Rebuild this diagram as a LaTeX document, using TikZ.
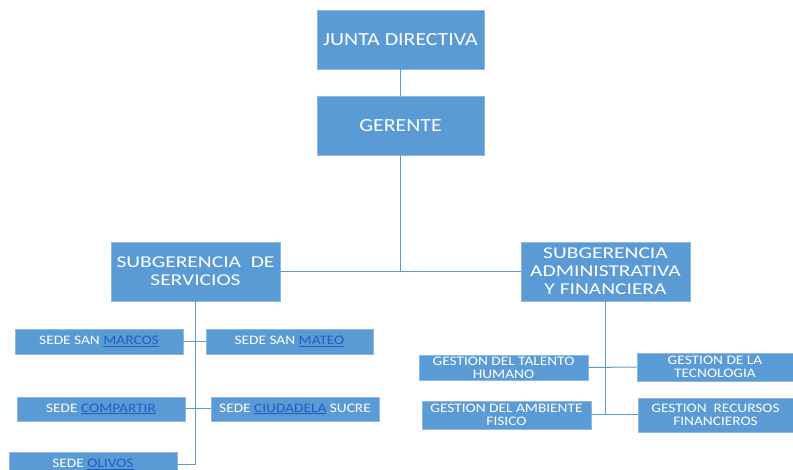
\documentclass[tikz,border=0pt]{standalone}
\usepackage{fontspec}
\newfontfamily\calb[FakeStretch=1.18]{Carlito}
\newfontfamily\calw[FakeStretch=1.3]{Carlito}
\definecolor{boxblue}{HTML}{5B9BD5}
\definecolor{edgeblue}{HTML}{8DB8E3}
\definecolor{lineblue}{HTML}{5B9BD5}
\definecolor{linkb}{HTML}{1F5FC4}
\newcommand{\lnk}[1]{{\color{linkb}\underline{#1}}}
\tikzset{
  box/.style={fill=boxblue, draw=edgeblue, line width=0.7pt, text=white, inner sep=0pt, align=center},
  big/.style={box, font=\calb\fontsize{18.5}{21}\selectfont},
  mid/.style={box, font=\calw\fontsize{16.5}{18}\selectfont},
  small/.style={box, font=\calb\fontsize{13}{12.7}\selectfont},
  conn/.style={draw=lineblue, line width=1pt},
}
\begin{document}
\begin{tikzpicture}[x=1pt,y=-1pt]
\useasboundingbox (0,0) rectangle (793,470);
\fill[white] (0,0) rectangle (793,470);
\node[big, minimum width=167, minimum height=59] (jd) at (400.5,39.5) {JUNTA DIRECTIVA};
\node[big, minimum width=167, minimum height=59] (ge) at (400.5,125.5) {GERENTE};
\node[mid, minimum width=169, minimum height=59] (ss) at (195.5,271.5) {SUBGERENCIA\ \ DE\\SERVICIOS};
\node[mid, minimum width=169, minimum height=59] (sa) at (605.5,271.5) {SUBGERENCIA\\ADMINISTRATIVA\\Y FINANCIERA};
\node[small, minimum width=168, minimum height=25] (sm) at (99,341.5) {SEDE SAN \lnk{MARCOS}};
\node[small, minimum width=167, minimum height=25] (sn) at (289.5,341.5) {SEDE SAN \lnk{MATEO}};
\node[small, minimum width=168, minimum height=24] (cp) at (101,409) {SEDE \lnk{COMPARTIR}};
\node[small, minimum width=168, minimum height=24] (cs) at (295,409) {SEDE \lnk{CIUDADELA} SUCRE};
\node[small, minimum width=168, minimum height=25] (ol) at (93,464.5) {SEDE \lnk{OLIVOS}};
\node[small, minimum width=169, minimum height=25] (th) at (503.5,367.5) {GESTION DEL TALENTO\\HUMANO};
\node[small, minimum width=156, minimum height=28] (tc) at (715,367) {GESTION DE LA\\TECNOLOGIA};
\node[small, minimum width=169, minimum height=28] (af) at (506.5,415) {GESTION DEL AMBIENTE\\FISICO};
\node[small, minimum width=155, minimum height=34] (rf) at (715.5,415) {GESTION\ \ RECURSOS\\FINANCIEROS};
\draw[conn] (jd.south) -- (ge.north);
\draw[conn] (ge.south) -- (ge.south |- ss.east);
\draw[conn] (ss.east) -- (sa.west);
\draw[conn] (ss.south) -- (ss.south |- ol.east) -- (ol.east);
\draw[conn] (sm.east) -- (sn.west);
\draw[conn] (cp.east) -- (cs.west);
\draw[conn] (sa.south) -- (sa.south |- af.east);
\draw[conn] (th.east) -- (tc.west);
\draw[conn] (af.east) -- (rf.west);
\end{tikzpicture}
\end{document}
